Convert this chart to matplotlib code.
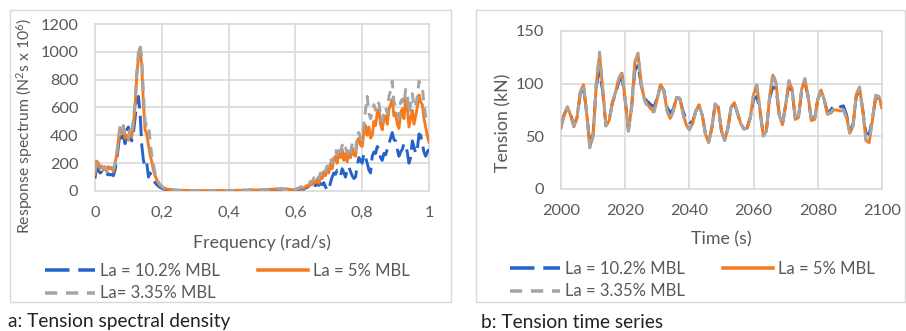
import numpy as np
import matplotlib
matplotlib.use("Agg")
import matplotlib.pyplot as plt
from matplotlib.lines import Line2D
from matplotlib.patches import Rectangle

plt.rcParams['font.family'] = ['Lato', 'DejaVu Sans']
plt.rcParams['mathtext.fontset'] = 'custom'
plt.rcParams['mathtext.rm'] = 'Lato'
plt.rcParams['mathtext.it'] = 'Lato:italic'

# ---- panel a: tension spectral density (step 0.005 rad/s) ----
freq = np.round(np.arange(0, 201) * 0.005, 3)

spec_5 = [
    120, 215, 200, 165, 180, 150, 175, 140, 175, 160, 170, 140, 200, 260, 360, 440, 420, 470, 380, 400,
    365, 440, 390, 480, 610, 820, 960, 1030, 900, 620, 440, 410, 330, 260, 210, 150, 110, 80, 55, 40,
    30, 22, 18, 14, 12, 10, 8, 9, 6, 7, 5, 6, 4, 5, 3, 4, 3, 4, 2, 3,
    2, 3, 2, 4, 2, 3, 2, 3, 4, 2, 3, 2, 4, 3, 2, 3, 4, 2, 3, 4,
    3, 5, 3, 4, 6, 3, 5, 4, 6, 5, 7, 5, 6, 8, 5, 7, 6, 8, 6, 9,
    7, 10, 8, 12, 9, 13, 11, 14, 12, 16, 14, 17, 15, 13, 16, 14, 12, 10, 8, 6,
    8, 15, 12, 20, 25, 18, 30, 40, 30, 50, 45, 70, 60, 85, 55, 100, 90, 140, 110, 170,
    130, 200, 160, 230, 250, 200, 290, 240, 300, 220, 270, 210, 280, 240, 310, 260, 250, 360, 380, 330,
    320, 420, 470, 400, 460, 380, 400, 500, 470, 560, 590, 480, 440, 520, 540, 480, 590, 620, 660, 540,
    560, 480, 450, 560, 590, 520, 660, 600, 460, 520, 580, 480, 540, 600, 690, 640, 620, 520, 460, 400,
    350]

spec_335 = [
    140, 200, 190, 170, 185, 160, 170, 150, 180, 170, 175, 160, 190, 270, 380, 470, 430, 460, 400, 410,
    380, 450, 420, 520, 650, 850, 1000, 1050, 960, 700, 500, 470, 480, 360, 260, 190, 130, 95, 65, 45,
    35, 25, 20, 15, 12, 10, 9, 8, 7, 6, 6, 5, 5, 4, 4, 3, 3, 3, 3, 2,
    2, 2, 3, 2, 2, 3, 2, 2, 3, 2, 2, 3, 2, 3, 2, 2, 3, 3, 2, 3,
    3, 4, 3, 4, 5, 4, 5, 4, 5, 6, 6, 5, 7, 6, 7, 6, 8, 7, 8, 9,
    8, 10, 9, 12, 11, 13, 12, 14, 13, 15, 14, 16, 15, 14, 15, 13, 12, 10, 9, 8,
    10, 18, 22, 30, 28, 35, 45, 55, 48, 70, 65, 95, 80, 110, 90, 130, 120, 160, 140, 180,
    175, 230, 200, 280, 290, 260, 320, 280, 330, 290, 310, 270, 320, 280, 340, 300, 290, 400, 420, 380,
    370, 480, 580, 680, 560, 520, 560, 620, 580, 640, 630, 560, 500, 580, 600, 560, 680, 720, 790, 640,
    610, 560, 530, 640, 660, 620, 730, 700, 560, 620, 700, 600, 620, 680, 790, 760, 750, 620, 540, 490,
    480]

spec_102 = [
    90, 170, 150, 130, 135, 120, 130, 110, 125, 115, 120, 110, 150, 220, 320, 420, 380, 400, 340, 440,
    460, 400, 360, 420, 520, 640, 680, 560, 330, 220, 175, 200, 100, 130, 95, 80, 60, 45, 35, 25,
    20, 15, 12, 10, 8, 7, 6, 5, 5, 4, 4, 3, 3, 3, 2, 2, 2, 2, 2, 2,
    2, 2, 2, 2, 2, 2, 2, 2, 2, 2, 2, 2, 2, 2, 2, 2, 2, 2, 2, 2,
    2, 3, 2, 3, 3, 3, 4, 3, 4, 4, 5, 4, 5, 5, 6, 5, 6, 6, 7, 7,
    6, 8, 7, 9, 8, 10, 9, 11, 10, 12, 11, 12, 11, 10, 11, 10, 9, 8, 6, 5,
    6, 10, 8, 14, 16, 12, 22, 28, 24, 35, 30, 45, 38, 50, 40, 55, 45, 60, 30, 10,
    5, 60, 100, 130, 120, 150, 140, 110, 160, 130, 100, 150, 175, 140, 110, 90, 100, 180, 240, 220,
    200, 270, 240, 200, 150, 130, 250, 280, 270, 320, 300, 240, 220, 270, 260, 300, 340, 380, 420, 370,
    360, 300, 250, 280, 300, 340, 330, 280, 200, 240, 360, 320, 270, 300, 410, 400, 340, 280, 250, 280,
    300]

# ---- panel b: tension time series (1 s step) ----
time_s = np.arange(2000, 2101)

ten_5 = [
    58, 70, 78, 70, 59, 68, 92, 99, 72, 40, 50, 100, 128, 95, 60, 65, 82, 92, 105, 110,
    85, 55, 78, 120, 128, 100, 85, 80, 76, 74, 86, 99, 94, 75, 67, 74, 87, 86, 72, 61,
    57, 62, 74, 80, 70, 52, 44, 58, 80, 78, 55, 46, 58, 78, 82, 72, 62, 57, 58, 68,
    90, 98, 75, 51, 55, 88, 108, 100, 70, 61, 80, 102, 95, 66, 68, 95, 104, 88, 65, 66,
    85, 94, 85, 71, 72, 75, 75, 74, 75, 68, 53, 60, 90, 96, 75, 46, 44, 65, 88, 88,
    77]

ten_335 = [
    59, 71, 78, 70, 60, 68, 92, 100, 72, 38, 50, 101, 130, 96, 60, 65, 82, 92, 105, 111,
    85, 55, 78, 121, 129, 100, 84, 78, 74, 73, 86, 99, 93, 74, 66, 74, 87, 86, 71, 60,
    56, 62, 74, 80, 70, 52, 44, 58, 81, 78, 55, 46, 58, 78, 82, 72, 62, 57, 58, 68,
    91, 99, 75, 50, 55, 88, 110, 101, 70, 61, 80, 103, 95, 65, 68, 96, 105, 88, 64, 66,
    85, 94, 85, 71, 73, 76, 76, 76, 75, 66, 52, 60, 90, 97, 75, 47, 45, 65, 89, 88,
    78]

ten_102 = [
    60, 71, 77, 71, 60, 68, 90, 97, 72, 42, 52, 98, 112, 92, 60, 65, 82, 90, 102, 105,
    84, 56, 78, 112, 118, 98, 86, 83, 80, 78, 87, 98, 94, 78, 72, 76, 87, 86, 74, 66,
    63, 64, 74, 79, 70, 53, 45, 58, 80, 77, 55, 47, 58, 77, 81, 72, 62, 57, 58, 68,
    85, 88, 74, 52, 56, 86, 97, 95, 70, 62, 80, 99, 93, 67, 68, 94, 101, 87, 66, 67,
    85, 93, 85, 72, 75, 79, 79, 78, 79, 70, 55, 62, 88, 94, 75, 53, 52, 66, 86, 86,
    77]

blue = '#2563C9'
orange = '#F47B20'
gray = '#A5A5A5'
txt = '#595959'
lw = 2.1

fig = plt.figure(figsize=(9.06, 3.31), dpi=100)

# panel frames
fig.patches.append(Rectangle((10 / 906, 1 - 302 / 331), 441 / 906, 292 / 331,
                             transform=fig.transFigure, fill=False, ec='#D9D9D9', lw=1))
fig.patches.append(Rectangle((476 / 906, 1 - 302 / 331), 429 / 906, 292 / 331,
                             transform=fig.transFigure, fill=False, ec='#D9D9D9', lw=1))


def style_axes(ax):
    for s in ax.spines.values():
        s.set_visible(False)
    ax.grid(True, color='#D9D9D9', lw=1.2)
    ax.set_axisbelow(True)
    ax.tick_params(length=0, labelsize=11.7, labelcolor=txt, pad=12)
    ax.tick_params(axis='x', pad=11)
    for gl in ax.get_xgridlines() + ax.get_ygridlines():
        gl.set_clip_on(False)


ax1 = fig.add_axes([95 / 906, 1 - 191 / 331, 334 / 906, 167 / 331])
ax1.plot(freq, spec_102, color=blue, lw=lw, dashes=(7, 2.5))
ax1.plot(freq, spec_5, color=orange, lw=lw)
ax1.plot(freq, spec_335, color=gray, lw=lw, dashes=(3.5, 2.5))
ax1.set_xlim(0, 1)
ax1.set_ylim(0, 1200)
ax1.set_xticks([0, 0.2, 0.4, 0.6, 0.8, 1.0])
ax1.set_xticklabels(['0', '0,2', '0,4', '0,6', '0,8', '1'])
ax1.set_yticks(range(0, 1201, 200))
style_axes(ax1)
ax1.set_xlabel('Frequency (rad/s)', fontsize=12.8, color=txt)
ax1.xaxis.set_label_coords(0.5, -0.26)
ax1.set_ylabel('Response spectrum (N$^2$s x 10$^6$)', fontsize=11.3, color=txt)
ax1.yaxis.set_label_coords(-0.18, 0.39)

ax2 = fig.add_axes([561 / 906, 1 - 189 / 331, 321 / 906, 158 / 331])
ax2.plot(time_s, ten_102, color=blue, lw=lw, dashes=(7, 2.5))
ax2.plot(time_s, ten_5, color=orange, lw=lw)
ax2.plot(time_s, ten_335, color=gray, lw=lw, dashes=(3.5, 2.5))
ax2.set_xlim(2000, 2100)
ax2.set_ylim(0, 150)
ax2.set_xticks(range(2000, 2101, 20))
ax2.set_yticks([0, 50, 100, 150])
style_axes(ax2)
ax2.set_xlabel('Time (s)', fontsize=12.8, color=txt)
ax2.xaxis.set_label_coords(0.5, -0.265)
ax2.set_ylabel('Tension (kN)', fontsize=12.8, color=txt)
ax2.yaxis.set_label_coords(-0.155, 0.42)


def add_legend(x0, y0, labels):
    h = [Line2D([], [], color=blue, lw=lw * 1.2, dashes=(7, 2.5)),
         Line2D([], [], color=gray, lw=lw * 1.2, dashes=(3.5, 2.5)),
         Line2D([], [], color=orange, lw=lw * 1.2)]
    fig.legend(h, [labels[0], labels[2], labels[1]], ncol=2, frameon=False,
               loc='upper left', bbox_to_anchor=(x0 / 906, 1 - y0 / 331),
               fontsize=12.0, handlelength=3.0, handletextpad=0.3,
               columnspacing=2.3, labelspacing=0.4, borderaxespad=0,
               labelcolor=txt)


add_legend(38, 256, ['La = 10.2% MBL', 'La = 5% MBL', 'La= 3.35% MBL'])
add_legend(503, 254, ['La = 10.2% MBL', 'La = 5% MBL', 'La = 3.35% MBL'])

fig.text(8 / 906, 1 - 322 / 331, 'a: Tension spectral density', fontsize=13.8,
         color='#222222', va='center', ha='left')
fig.text(481 / 906, 1 - 322 / 331, 'b: Tension time series', fontsize=13.8,
         color='#222222', va='center', ha='left')

fig.savefig('out.png', dpi=100)
